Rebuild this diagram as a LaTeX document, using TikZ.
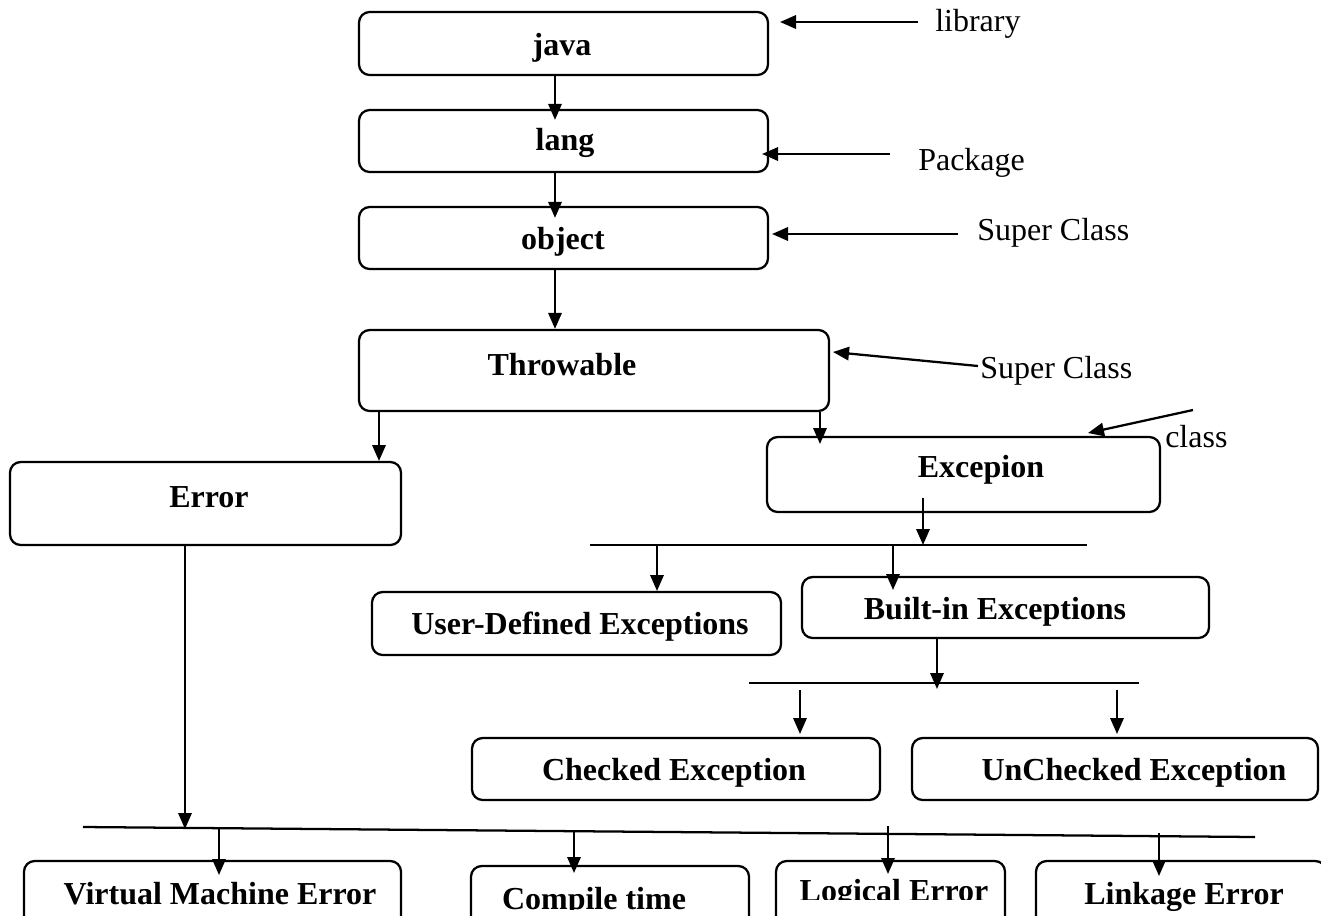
\documentclass[tikz,border=0pt]{standalone}
\usepackage{fontspec}
\setmainfont{Liberation Serif}
\usetikzlibrary{arrows.meta,calc}
\begin{document}
\begin{tikzpicture}[x=0.75pt,y=-0.75pt,
  box/.style={draw,line width=1.7pt,rounded corners=8pt,inner sep=0pt},
  lbl/.style={anchor=base,font=\fontsize{24}{28}\selectfont\bfseries,inner sep=0pt},
  note/.style={anchor=base west,font=\fontsize{24}{28}\selectfont,inner sep=0pt},
  arr/.style={line width=1.7pt,-{Triangle[length=12pt,width=10pt]}},
  bar/.style={line width=1.7pt}]
\useasboundingbox (0,0) rectangle (1321,915);
\clip (0,0) rectangle (1321,915);

% boxes
\node[box,minimum width=409*0.75pt,minimum height=63*0.75pt] (java) at (563.5,43.5) {};
\node[box,minimum width=409*0.75pt,minimum height=62*0.75pt] (lang) at (563.5,141) {};
\node[box,minimum width=409*0.75pt,minimum height=62*0.75pt] (object) at (563.5,238) {};
\node[box,minimum width=470*0.75pt,minimum height=81*0.75pt] (throw) at (594,370.5) {};
\node[box,minimum width=391*0.75pt,minimum height=83*0.75pt] (error) at (205.5,503.5) {};
\node[box,minimum width=393*0.75pt,minimum height=75*0.75pt] (exc) at (963.5,474.5) {};
\node[box,minimum width=409*0.75pt,minimum height=63*0.75pt] (user) at (576.5,623.5) {};
\node[box,minimum width=407*0.75pt,minimum height=61*0.75pt] (built) at (1005.5,607.5) {};
\node[box,minimum width=408*0.75pt,minimum height=62*0.75pt] (checked) at (676,769) {};
\node[box,minimum width=406*0.75pt,minimum height=62*0.75pt] (unchecked) at (1115,769) {};
\node[box,minimum width=377*0.75pt,minimum height=80*0.75pt] (vme) at (212.5,901) {};
\node[box,minimum width=278*0.75pt,minimum height=80*0.75pt] (compile) at (610,906) {};
\node[box,minimum width=229*0.75pt,minimum height=80*0.75pt] (logical) at (890.5,901) {};
\node[box,minimum width=290*0.75pt,minimum height=80*0.75pt] (linkage) at (1181,901) {};

% box texts
\node[lbl] (javaT) at (562,55) {java};
\node[lbl] (langT) at (565,150) {lang};
\node[lbl] (objectT) at (563,249) {object};
\node[lbl] (throwT) at (562,375) {Throwable};
\node[lbl] (errorT) at (209,507) {Error};
\node[lbl] (excT) at (981,477) {Excepion};
\node[lbl] (userT) at (580,634) {User-Defined Exceptions};
\node[lbl] (builtT) at (995,619) {Built-in Exceptions};
\node[lbl] (checkedT) at (674,780) {Checked Exception};
\node[lbl] (uncheckedT) at (1134,780) {UnChecked Exception};
\node[lbl] (vmeT) at (220,904) {Virtual Machine Error};
\node[lbl] (linkageT) at (1184,904) {Linkage Error};
% texts cut off by the lower edge of their frames
\begin{scope}
  \clip (471,860) rectangle (749,909);
  \node[lbl] (compileT) at (594,909) {Compile time};
\end{scope}
\begin{scope}
  \clip (776,855) rectangle (1005,899);
  \node[lbl] (logicalT) at (894,901) {Logical Error};
\end{scope}

% side notes
\node[note] (libN) at (935,31) {library};
\node[note] (pkgN) at (918,170) {Package};
\node[note] (sc1N) at (977,240) {Super Class};
\node[note] (sc2N) at (980,378) {Super Class};
\node[note] (clsN) at (1165,447) {class};

% chain down the centre column
\draw[arr] (java.south -| 555,0) -- ($(lang.north -| 555,0)+(0,11)$);
\draw[arr] (lang.south -| 555,0) -- ($(object.north -| 555,0)+(0,12)$);
\draw[arr] (object.south -| 555,0) -- (throw.north -| 555,0);

% Throwable splits
\coordinate (te) at (379,461);
\coordinate (tx) at (820,444);
\draw[arr] (throw.south -| te) -- (te);
\draw[arr] (throw.south -| tx) -- (tx);

% Exception branches
\coordinate (b1l) at (590,545);
\coordinate (b1r) at (1087,545);
\draw[bar] (b1l) -- (b1r);
\coordinate (ex0) at (923,498);
\draw[arr] (ex0) -- (ex0 |- b1l);
\coordinate (u1) at (657,591);
\coordinate (u2) at (893,590);
\draw[arr] (u1 |- b1l) -- (u1);
\draw[arr] (u2 |- b1l) -- (u2);

% Built-in branches
\coordinate (b2l) at (749,683);
\coordinate (b2r) at (1139,683);
\draw[bar] (b2l) -- (b2r);
\coordinate (b2m) at (937,689);
\draw[arr] (built.south -| b2m) -- (b2m);
\coordinate (c1) at (800,734);
\coordinate (c2) at (1117,734);
\draw[arr] (800,690) -- (c1);
\draw[arr] (1117,690) -- (c2);

% Error branches
\coordinate (b3l) at (83,827);
\coordinate (b3r) at (1255,837);
\draw[bar] (b3l) -- (b3r);
\coordinate (b3m) at (185,829);
\draw[arr] (error.south -| b3m) -- (b3m);
\coordinate (e1) at (219,875);
\coordinate (e2) at (574,873);
\coordinate (e3) at (888,874);
\coordinate (e4) at (1159,876);
\draw[arr] (219,828) -- (e1);
\draw[arr] (574,830) -- (e2);
\draw[arr] (888,826) -- (e3);
\draw[arr] (1159,833) -- (e4);

% note pointers
\coordinate (libS) at (918,22);
\coordinate (libE) at (780,22);
\coordinate (pkgS) at (890,154);
\coordinate (sc1S) at (958,234);
\coordinate (sc2S) at (978,366);
\coordinate (clsS) at (1193,410);
\draw[arr] (libS) -- (libE);
\draw[arr] (pkgS) -- (762,154);
\draw[arr] (sc1S) -- (772,234);
\draw[arr] (sc2S) -- (833,352);
\draw[arr] (clsS) -- (1088,433);
\end{tikzpicture}
\end{document}
